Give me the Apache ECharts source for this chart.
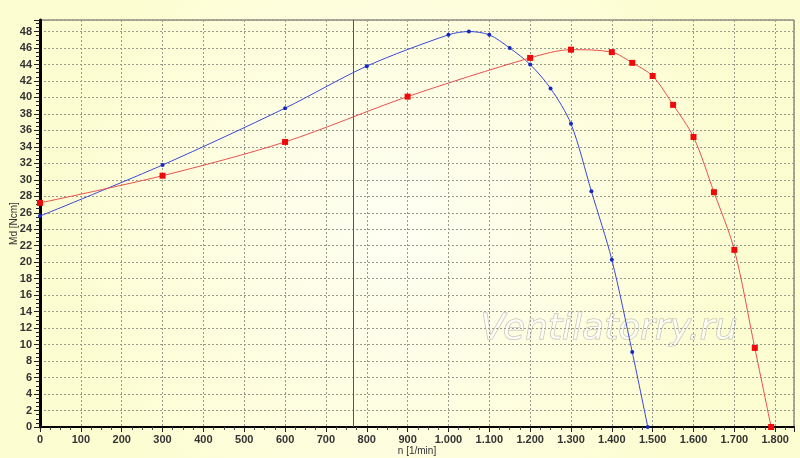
<!DOCTYPE html>
<html>
<head>
<meta charset="utf-8">
<script src="https://cdn.jsdelivr.net/npm/echarts@6/dist/echarts.min.js"></script>
<style>
  html, body { margin: 0; padding: 0; }
  #chart { width: 800px; height: 458px; }
</style>
</head>
<body>
<div id="chart"></div>
<script>
// data: n [1/min] vs Md [Ncm]
const blueN = [0, 300, 600, 800, 1000, 1050, 1100, 1150, 1200, 1250, 1300, 1350, 1400, 1450, 1488];
const blueMd = [25.6, 31.8, 38.7, 43.8, 47.6, 48.0, 47.6, 46.0, 44.0, 41.1, 36.8, 28.6, 20.3, 9.1, 0];
const redN = [0, 300, 600, 900, 1200, 1300, 1400, 1450, 1500, 1550, 1600, 1650, 1700, 1750, 1790];
const redMd = [27.2, 30.5, 34.6, 40.1, 44.8, 45.8, 45.5, 44.2, 42.6, 39.1, 35.2, 28.5, 21.5, 9.6, 0];
const markerN = 766;

const pairs = (xs, ys) => xs.map((x, i) => [x, ys[i]]);

// 1000 -> "1.000"
function fmtN(v) {
    if (v >= 1000) return Math.floor(v / 1000) + '.' + String(v % 1000).padStart(3, '0');
    return String(v);
}

const chart = echarts.init(document.getElementById('chart'));

const labelStyle = {
    color: '#333',
    fontFamily: 'Liberation Sans',
    fontSize: 11,
    fontWeight: 'bold'
};

const option = {
    animation: false,
    backgroundColor: {
        type: 'radial',
        x: 0.5, y: 0.5, r: 0.75,
        colorStops: [
            { offset: 0, color: '#fffff4' },
            { offset: 1, color: '#fdfdd2' }
        ]
    },
    grid: {
        left: 40,
        right: 6,
        top: 20,
        bottom: 31,
        outerBoundsMode: 'none',
        containLabel: false,
        show: true,
        borderColor: '#555',
        borderWidth: 1,
        backgroundColor: 'transparent'
    },
    xAxis: {
        type: 'value',
        min: 0,
        max: 1846,
        interval: 100,
        name: 'n [1/min]',
        nameLocation: 'middle',
        nameGap: 19,
        nameMoveOverlap: false,
        nameTextStyle: { color: '#333', fontFamily: 'Liberation Sans', fontSize: 10 },
        axisLine: { lineStyle: { color: '#000', width: 2 } },
        axisTick: { length: 5, lineStyle: { color: '#222' } },
        minorTick: { show: true, splitNumber: 4, length: 3, lineStyle: { color: '#444' } },
        axisLabel: Object.assign({ margin: 7, showMaxLabel: false, formatter: fmtN }, labelStyle),
        splitLine: { show: true, lineStyle: { color: '#9a9a8a', type: [2, 2] } }
    },
    yAxis: {
        type: 'value',
        min: 0,
        max: 49.4,
        interval: 2,
        offset: 2,
        name: 'Md [Ncm]',
        nameLocation: 'middle',
        nameGap: 19,
        nameMoveOverlap: false,
        nameTextStyle: { color: '#333', fontFamily: 'Liberation Sans', fontSize: 10 },
        axisLine: { show: true, lineStyle: { color: '#000', width: 3 } },
        axisTick: { show: true, length: 6, lineStyle: { color: '#222' } },
        minorTick: { show: true, splitNumber: 4, length: 4, lineStyle: { color: '#222' } },
        axisLabel: Object.assign({ margin: 6, showMaxLabel: false }, labelStyle),
        splitLine: { show: true, lineStyle: { color: '#9a9a8a', type: [2, 2] } }
    },
    graphic: [{
        type: 'text',
        left: 480,
        top: 311,
        z: 0,
        style: {
            text: 'Ventilatorry.ru',
            font: 'italic 36px "DejaVu Sans"',
            fill: 'rgba(255,255,255,0.7)',
            stroke: '#babaa8',
            lineWidth: 1
        }
    }],
    series: [
        {
            name: 'blue',
            type: 'line',
            smooth: 0.3,
            data: pairs(blueN, blueMd),
            symbol: 'circle',
            symbolSize: 4,
            itemStyle: { color: '#1428c0' },
            lineStyle: { color: '#3848d8', width: 1 },
            markLine: {
                silent: true,
                symbol: 'none',
                label: { show: false },
                lineStyle: { color: '#555', type: 'solid', width: 1 },
                data: [{ xAxis: markerN }]
            }
        },
        {
            name: 'red',
            type: 'line',
            smooth: 0.3,
            data: pairs(redN, redMd),
            symbol: 'rect',
            symbolSize: 6,
            itemStyle: { color: '#ee0a0a' },
            lineStyle: { color: '#e85050', width: 1 }
        }
    ]
};

chart.setOption(option);
</script>
</body>
</html>
